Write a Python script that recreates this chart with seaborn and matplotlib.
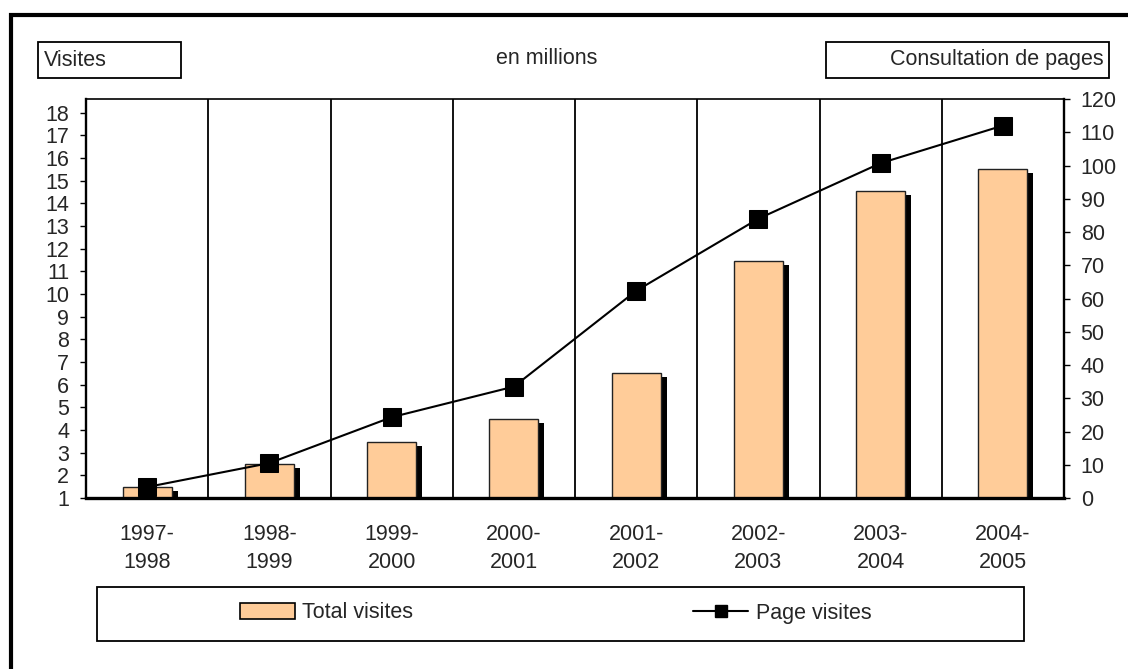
import numpy as np
import seaborn as sns
import matplotlib.pyplot as plt
from matplotlib.patches import Patch, Rectangle
from matplotlib.lines import Line2D
from matplotlib.transforms import ScaledTranslation

# data
periods = ['1997-\n1998', '1998-\n1999', '1999-\n2000', '2000-\n2001',
           '2001-\n2002', '2002-\n2003', '2003-\n2004', '2004-\n2005']
total_visites = [1.5, 2.5, 3.45, 4.5, 6.5, 11.45, 14.55, 15.5]
page_visites = [3.3, 10.5, 24.3, 33.5, 62.3, 84, 100.7, 112]
left_ticks = list(range(1, 19))
right_ticks = list(range(0, 121, 10))

bar_color = '#FFCC99'
W, H = 1128, 669

sns.set_theme(style='white')
plt.rcParams['font.family'] = ['Liberation Sans', 'DejaVu Sans']

fig = plt.figure(figsize=(W / 100, H / 100), dpi=100)
ax = fig.add_axes([86 / W, 1 - 498 / H, (1064 - 86) / W, (498 - 99) / H])

# shadow bars, shifted right/down
sns.barplot(x=periods, y=total_visites, ax=ax, color='black', width=0.4,
            saturation=1, linewidth=0)
shift = ScaledTranslation(6 / 100, -4 / 100, fig.dpi_scale_trans)
for p in list(ax.patches):
    p.set_transform(ax.transData + shift)

sns.barplot(x=periods, y=total_visites, ax=ax, color=bar_color, width=0.4,
            saturation=1, edgecolor='#222222', linewidth=1.0)

ax.set_xlim(-0.5, len(periods) - 0.5)
ax.set_ylim(1, 18.6)
ax.set_yticks(left_ticks)
ax.set_xticks(np.arange(0.5, len(periods) - 1, 1), minor=True)
ax.grid(which='minor', axis='x', color='black', linewidth=1.3)
ax.grid(which='major', visible=False)
ax.set_axisbelow(True)
ax.tick_params(axis='y', left=True, direction='out', length=4, width=1,
               color='black', labelsize=15.5, pad=8)
ax.tick_params(axis='x', which='both', length=0, labelsize=15.5, pad=19)
for t in ax.get_xticklabels():
    t.set_linespacing(1.4)
for side, lw in [('left', 1.7), ('right', 1.7), ('top', 1.2), ('bottom', 2.4)]:
    ax.spines[side].set_color('black')
    ax.spines[side].set_linewidth(lw)
ax.set_xlabel('')
ax.set_ylabel('')

ax2 = ax.twinx()
sns.lineplot(x=np.arange(len(periods)), y=page_visites, ax=ax2, color='black',
             marker='s', markersize=13, markeredgecolor='black', linewidth=1.5)
ax2.set_ylim(0, 120)
ax2.set_yticks(right_ticks)
ax2.tick_params(axis='y', right=True, direction='out', length=4, width=1,
                color='black', labelsize=15.5, pad=8)
ax2.set_ylabel('')
for s in ax2.spines.values():
    s.set_visible(False)


def box(x0, y0, x1, y1, lw):
    fig.add_artist(Rectangle((x0 / W, 1 - y1 / H), (x1 - x0) / W, (y1 - y0) / H,
                             transform=fig.transFigure, fill=False,
                             edgecolor='black', linewidth=lw))


box(11, 15, 1160, 700, 3)
box(38, 42, 181, 78, 1.3)
box(826, 42, 1109, 78, 1.3)
box(97, 587, 1024, 641, 1.3)

fig.text(44 / W, 1 - 60 / H, 'Visites', ha='left', va='center', fontsize=15.5)
fig.text(547 / W, 1 - 58 / H, 'en millions', ha='center', va='center', fontsize=15.5)
fig.text(1104 / W, 1 - 60 / H, 'Consultation de pages', ha='right', va='center',
         fontsize=15.5)

h1 = Patch(facecolor=bar_color, edgecolor='black', linewidth=1.2, label='Total visites')
h2 = Line2D([], [], color='black', marker='s', markersize=8, linewidth=1.5,
            label='Page visites')
fig.legend(handles=[h1, h2], loc='center left', bbox_to_anchor=(240 / W, 1 - 613 / H),
           ncol=2, frameon=False, fontsize=15.5, handlelength=2.55, handleheight=0.7,
           handletextpad=0.35, columnspacing=13.0, borderpad=0, borderaxespad=0)

fig.savefig('out.png', dpi=100)
